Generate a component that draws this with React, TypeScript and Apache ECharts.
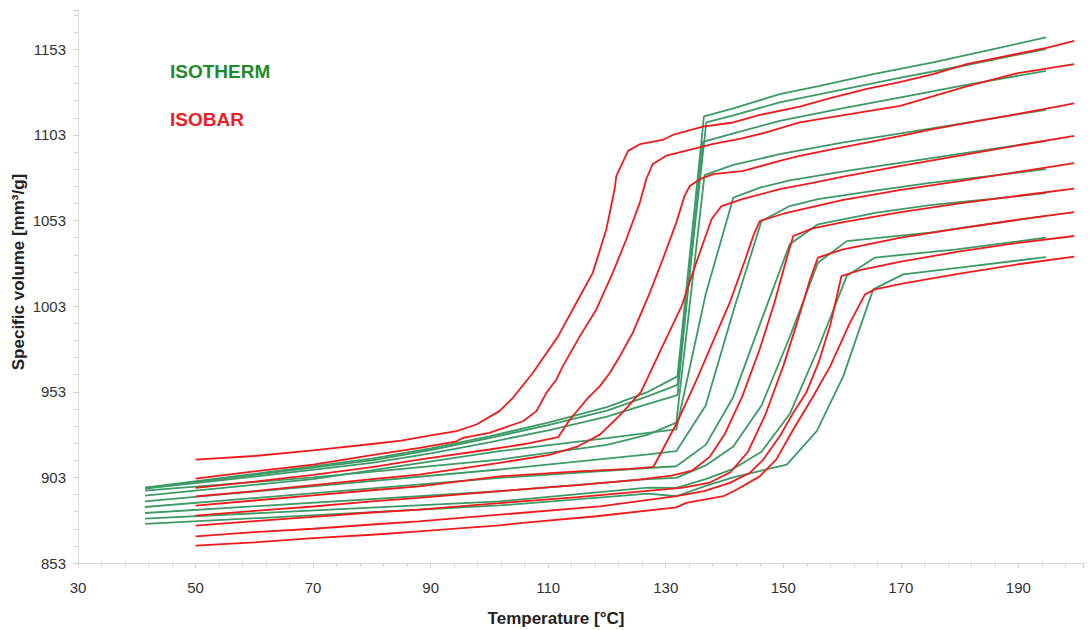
import React, { useEffect, useRef } from "react";
import * as echarts from "echarts";

// ---- Data ----
const xTicks = { min: 30, max: 201, interval: 20 };
const yTicks = { min: 853, max: 1176, interval: 50 };

// Isobar curves (red)
const isobar1 = [[50,913.4],[60,915.5],[70,918.8],[80,922.5],[85,924.5],[90,927.5],[94.4,930],[97.8,933.9],[101.7,941.7],[104,949.5],[107.4,964.1],[111.7,985.5],[114.8,1005],[117.6,1022.6],[119.9,1047.9],[121.3,1071.3],[121.6,1079.1],[123.6,1093.7],[125.6,1097.6],[129.5,1100.1],[131.2,1103],[136.3,1107.9],[141.5,1110.3],[146,1114.7],[152.8,1119.6],[158,1124.5],[164.2,1129.9],[170,1134],[175.5,1138.6],[181.2,1144.4],[189.7,1150.3],[195,1154],[199.5,1158]];
const isobar2 = [[50,902.3],[60,906.5],[70,910.5],[80,916],[88.1,920.3],[94.4,924.1],[95.5,926.1],[100,929],[105.7,935.8],[108,941.7],[109.7,952.4],[111.4,960.2],[112.5,968],[115.4,985.5],[118.2,1001.1],[121,1022.6],[123.3,1042.1],[125.6,1063.5],[126.7,1077.3],[127.8,1086.1],[130.1,1090.9],[133.5,1093.9],[138.1,1097.8],[142.6,1100.7],[147.1,1104.5],[152.8,1110.3],[160,1114.5],[169.9,1120],[181.2,1131.4],[189.7,1139],[199.5,1144.4]];
const isobar3 = [[50,896.9],[60,900.5],[70,904.5],[80,909],[88,913.4],[100,919.3],[106,922.5],[111.7,926.5],[113.7,936.8],[116.8,949.5],[118.8,956.3],[120.5,964.1],[122.2,973.8],[124.4,987.5],[127.3,1010.9],[129.5,1030.4],[131.8,1051.8],[133.2,1067.4],[134.1,1073.2],[135.8,1077.2],[138.1,1080.1],[143.2,1082],[149.4,1087.9],[152.8,1090.8],[158,1094.5],[164.2,1098.6],[170,1102.5],[175.5,1106.4],[182,1110.5],[189.7,1115.2],[195,1118.5],[199.5,1121.4]];
const isobar4 = [[50,891.9],[60,895],[70,898.5],[80,902],[88,904.6],[101.7,911.5],[110,916],[115,921],[118.8,928],[122.4,940],[125.8,953],[129.5,980],[132.7,1003],[134.6,1022.6],[137.8,1053.8],[139.5,1061.5],[143,1065.5],[149.4,1071.4],[155,1075],[160,1078.5],[170,1085],[180,1091],[190,1097],[199.5,1102.5]];
const isobar5 = [[50,886.5],[60,889.5],[70,892.5],[80,895.5],[88,897.8],[101.7,903.6],[115,906.5],[124,908],[127.9,909.1],[131.9,934.9],[135,958],[138,982],[141,1006],[143.5,1030],[145,1045],[146,1052.7],[150,1057],[155,1061],[160,1065],[170,1071],[180,1076],[190,1081.5],[199.5,1086.5]];
const isobar6 = [[50,880.7],[60,883.5],[70,886],[80,889],[88,891],[101.7,895],[115,898.5],[125,901.5],[131,904],[134.5,907],[137.5,915],[140,928],[143,950],[146,978],[148.5,1005],[150.5,1030],[151.7,1044],[155,1048.5],[160,1052],[170,1058],[180,1063],[190,1067.5],[199.5,1071.7]];
const isobar7 = [[50,874.8],[60,877.5],[70,880],[80,882.5],[88,884.2],[101.7,888],[115,891.5],[125,894.5],[133,897],[137.5,900],[141,906],[144,918],[147,940],[150,968],[152.5,995],[154.5,1018],[155.9,1031.4],[160,1036],[165,1039.5],[170,1043],[180,1048.5],[190,1053.5],[199.5,1058]];
const isobar8 = [[50,868.6],[60,871],[70,873],[80,875.5],[88,877.3],[101.7,881.2],[118.8,886.1],[131.8,892],[136.5,895],[140.9,899.8],[144.3,905.6],[146.6,913.4],[149.4,927],[151.7,940.7],[153.9,952.4],[156,970],[158,992],[159.2,1010],[159.9,1020.6],[163,1024],[170,1029],[180,1035],[190,1040],[199.5,1044]];
const isobar9 = [[50,863.1],[60,865],[70,867.5],[80,869.5],[88,871.5],[101.7,875],[105.7,876.4],[118.2,880.3],[131.8,885.5],[133.5,888.1],[139.8,892],[142.1,895.9],[146,903.6],[148.8,913.4],[151.7,931],[155.1,950.4],[158,968],[161.3,993],[163.9,1009.9],[165.6,1012.8],[170,1016],[180,1022],[190,1027.5],[199.5,1032]];

// Isotherm curves (green)
const isotherm1 = [[41.4,897],[60,905],[80,914],[90,920],[100,927],[110,935],[120,944],[127,953],[132,962],[136.5,1113.8],[141.5,1118.5],[149.4,1126.9],[156,1131.5],[165.3,1138.5],[175.5,1145.4],[185,1152.5],[194.7,1160]];
const isotherm2 = [[41.4,896.9],[60,904.5],[80,913],[90,919],[100,926],[110,933.5],[120,942],[127,950.5],[132,957],[136.9,1110.3],[141.5,1114.5],[149.4,1122],[160,1129.5],[170,1136.5],[180,1143],[194.7,1153.2]];
const isotherm3 = [[41.4,896.5],[60,903.5],[80,911.5],[90,917],[100,923.5],[110,930.5],[120,938.5],[127,946],[132,951],[136.3,1099],[141.5,1104],[149.4,1111.2],[160,1118.5],[170,1125],[180,1131.5],[194.7,1140.5]];
const isotherm4 = [[41.4,895.3],[70,903],[101.7,913.4],[120,922],[127,928],[131.8,935],[136.6,1079.5],[141.5,1085.5],[149.4,1091.8],[160,1098.5],[170,1104],[180,1109.5],[194.7,1117.7]];
const isotherm5 = [[41.4,892.4],[70,902],[101.7,918.3],[120,926],[127,929],[131.8,931],[136.8,1010],[141.5,1066.4],[146.3,1072.5],[151.1,1076.5],[160.8,1082],[170.4,1087],[180,1092],[194.7,1099.5]];
const isotherm6 = [[41.4,889],[101.7,907.6],[127,916.5],[131.8,918.3],[136.8,945],[141.5,1000],[146.3,1052.8],[151.1,1061.5],[155.9,1065.5],[165.3,1070.3],[175,1075],[185,1079],[194.7,1083]];
const isotherm7 = [[41.4,885.7],[101.7,902.7],[127,908.5],[131.8,909.5],[136.8,922],[141.5,950],[146.3,995],[151.1,1039.2],[155.9,1050.8],[165.9,1057.7],[175,1062],[185,1065.5],[194.7,1069]];
const isotherm8 = [[41.4,882.2],[101.7,894.9],[127,902],[131.8,902.7],[136.8,910],[141.5,921],[146.3,945],[151.1,985],[155.9,1028.4],[160.8,1041],[174.9,1046],[185,1051],[194.7,1055.7]];
const isotherm9 = [[41.4,878.9],[101.7,889],[127,897],[131.8,896.9],[136.8,902],[141.5,908],[146.3,918],[151.1,940],[155.9,978],[160.8,1020.6],[165.6,1031.4],[179.5,1036.2],[194.7,1043]];
const isotherm10 = [[41.4,875.8],[101.7,886.6],[127,893.5],[131.8,892],[136.8,898],[141.5,903],[146.3,907],[150.6,910.5],[155.7,930],[160.2,962],[165.3,1012.8],[170.4,1021.6],[180,1025.5],[194.7,1031.7]];

const isotherms = [isotherm1, isotherm2, isotherm3, isotherm4, isotherm5, isotherm6, isotherm7, isotherm8, isotherm9, isotherm10];
const isobars = [isobar1, isobar2, isobar3, isobar4, isobar5, isobar6, isobar7, isobar8, isobar9];

const legendLabels = ["ISOTHERM", "ISOBAR"];
const xAxisTitle = "Temperature [°C]";
const yAxisTitle = "Specific volume [mm³/g]";

const GREEN = "#3b9a66";
const RED = "#f01a1a";
const FONT = "'Liberation Sans', Arial, sans-serif";

export default function App() {
  const ref = useRef<HTMLDivElement>(null);
  useEffect(() => {
    if (!ref.current) return;
    const chart = echarts.init(ref.current, null, { renderer: "svg" });
    const axisLabelStyle = { color: "#333", fontSize: 15, fontFamily: FONT };
    const series: any[] = [];
    isotherms.forEach((d, i) =>
      series.push({
        name: "isotherm" + (i + 1),
        type: "line",
        data: d,
        showSymbol: false,
        symbol: "none",
        lineStyle: { color: GREEN, width: 1.8 },
        z: 2,
      })
    );
    isobars.forEach((d, i) =>
      series.push({
        name: "isobar" + (i + 1),
        type: "line",
        data: d,
        showSymbol: false,
        symbol: "none",
        lineStyle: { color: RED, width: 1.8 },
        z: 3,
      })
    );
    chart.setOption({
      animation: false,
      backgroundColor: "#ffffff",
      grid: { left: 78, right: 8, top: 10, bottom: 67 },
      xAxis: {
        type: "value",
        min: xTicks.min,
        max: xTicks.max,
        interval: xTicks.interval,
        axisLine: { show: true, lineStyle: { color: "#d9d9d9", width: 1 } },
        axisTick: { show: true, inside: false, length: 5, lineStyle: { color: "#d0d0d0" } },
        minorTick: { show: true, splitNumber: 5, length: 4, lineStyle: { color: "#d0d0d0" } },
        splitLine: { show: false },
        axisLabel: { ...axisLabelStyle, margin: 17, showMaxLabel: false, formatter: (v: number) => String(v) },
      },
      yAxis: {
        type: "value",
        min: yTicks.min,
        max: yTicks.max,
        interval: yTicks.interval,
        axisLine: { show: true, lineStyle: { color: "#d9d9d9", width: 1 } },
        axisTick: { show: true, inside: false, length: 5, lineStyle: { color: "#d0d0d0" } },
        minorTick: { show: true, splitNumber: 5, length: 4, lineStyle: { color: "#d0d0d0" } },
        splitLine: { show: false },
        axisLabel: { ...axisLabelStyle, margin: 12, showMaxLabel: false, formatter: (v: number) => String(v) },
      },
      graphic: [
        {
          type: "text",
          x: 170,
          y: 71,
          style: { text: legendLabels[0], fill: "#1e8a2c", font: "bold 19px " + FONT, align: "left", verticalAlign: "middle" },
        },
        {
          type: "text",
          x: 170,
          y: 119,
          style: { text: legendLabels[1], fill: "#ee1c24", font: "bold 19px " + FONT, align: "left", verticalAlign: "middle" },
        },
        {
          type: "text",
          x: 556,
          y: 618,
          style: { text: xAxisTitle, fill: "#222", font: "bold 17px " + FONT, align: "center", verticalAlign: "middle" },
        },
        {
          type: "text",
          x: 18,
          y: 272,
          rotation: Math.PI / 2,
          style: { text: yAxisTitle, fill: "#222", font: "bold 17px " + FONT, align: "center", verticalAlign: "middle" },
        },
      ],
      series,
    });
    return () => chart.dispose();
  }, []);
  return <div ref={ref} style={{ position: "fixed", left: 0, top: 0, width: 1091, height: 630, background: "#fff" }} />;
}
